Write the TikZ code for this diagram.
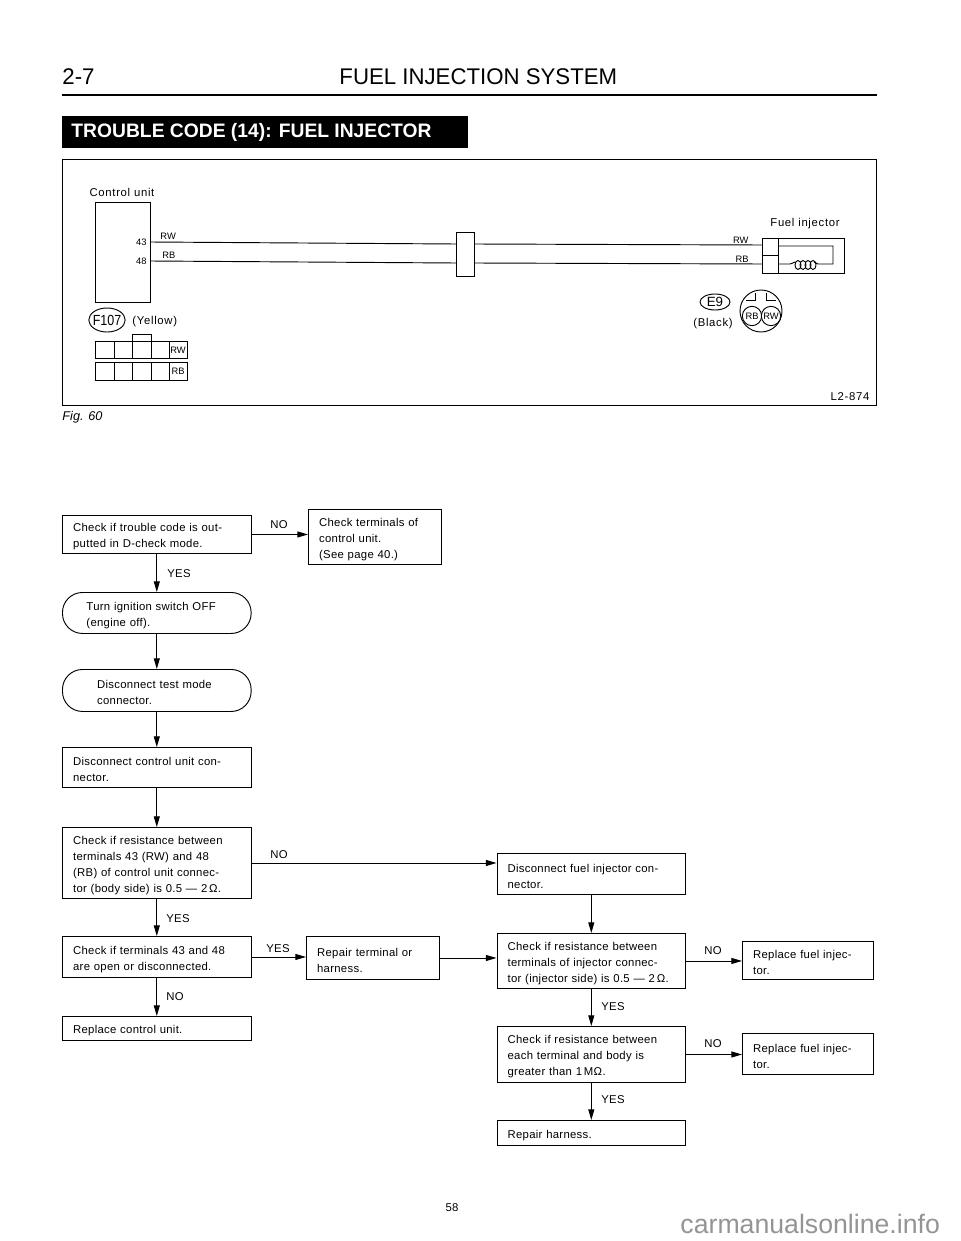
\documentclass[tikz,border=0pt]{standalone}
\usepackage{fontspec}
\setmainfont{Liberation Sans}
\newfontfamily\headfont[FakeStretch=0.98]{Liberation Sans}
\newfontfamily\bannerfont[FakeStretch=0.99]{Liberation Sans Bold}
\newfontfamily\condfont[FakeStretch=0.85]{Liberation Sans}
\newfontfamily\flowfont[LetterSpace=2.6]{Liberation Sans}
\newfontfamily\tagfont[LetterSpace=6]{Liberation Sans}
\usetikzlibrary{arrows.meta,shapes.geometric}
\tikzset{
    widebox/.style={draw,anchor=north west,align=left,inner xsep=8pt,inner ysep=0pt,text width=125.5pt,font=\flowfont\fontsize{8.5}{12}\selectfont,execute at begin node={\rule{0pt}{9.5pt}}},
    narrowbox/.style={widebox,text width=83.75pt},
    pillbox/.style={widebox,rounded corners=15pt},
    flowline/.style={-{Triangle[length=8pt,width=4.5pt]}},
    flowtag/.style={font=\flowfont\fontsize{8.5}{12}\selectfont},
    wiretag/.style={font=\fontsize{7}{8}\selectfont,inner sep=0pt},
    plaintag/.style={font=\tagfont\fontsize{8.5}{10}\selectfont,inner sep=0pt}
}
\begin{document}
\begin{tikzpicture}[x=0.75pt,y=-0.75pt,line width=0.7pt]
    \useasboundingbox (0,0) rectangle (960,1241);
    \node[anchor=west,inner sep=0pt,font=\headfont\fontsize{17}{20}\selectfont] (pagenum) at (62,77) {2-7};
    \node[anchor=west,inner sep=0pt,font=\headfont\fontsize{17}{20}\selectfont] (heading) at (339,77) {FUEL INJECTION SYSTEM};
    \draw[line width=2pt] (62,95) -- (877,95);
    \node[fill=black,text=white,anchor=north west,inner sep=0pt,minimum width=304.5pt,minimum height=24pt] (banner) at (62,116) {};
    \node[anchor=west,inner sep=0pt,text=white,font=\bannerfont\fontsize{14.6}{17}\selectfont] (bannertext) at (71,132) {TROUBLE CODE (14): FUEL INJECTOR};

    \draw (62,159) rectangle (876,405);
    \node[plaintag] (ctrllabel) at (122,192) {Control unit};
    \node[draw,anchor=north west,inner sep=0pt,minimum width=41.25pt,minimum height=75pt] (ctrlunit) at (95,202) {};
    \node[wiretag,anchor=east] (pin43) at (147,242) {43};
    \node[wiretag,anchor=east] (pin48) at (147,261) {48};
    \node[wiretag,anchor=west] (rwa) at (160,236) {RW};
    \node[wiretag,anchor=west] (rba) at (162,255) {RB};
    \node[draw,anchor=north west,inner sep=0pt,minimum width=13.5pt,minimum height=33pt] (midconn) at (456,232) {};
    \coordinate (t43) at (150,242);
    \coordinate (t48) at (150,261);
    \coordinate (m43) at (456,244);
    \coordinate (m48) at (456,263);
    \coordinate (n43) at (474,244);
    \coordinate (n48) at (474,263);
    \coordinate (i43) at (762,245);
    \coordinate (i48) at (762,264);
    \draw (t43) -- (m43);
    \draw (t48) -- (m48);
    \draw (n43) -- (i43);
    \draw (n48) -- (i48);
    \node[wiretag,anchor=east] (rwb) at (749,240) {RW};
    \node[wiretag,anchor=east] (rbb) at (749,259) {RB};
    \node[plaintag] (injlabel) at (805,224) {Fuel injector};
    \draw (762,238) rectangle (778,255);
    \draw (762,255) rectangle (778,273);
    \draw (778,238) -- (844,238) -- (844,273) -- (778,273);
    \draw (778,246) -- (833,246) -- (833,264) -- (818,264) .. controls (816,264) and (816,262) .. (814,262);
    \draw (778,264) -- (790,264) .. controls (793,264) and (793,262) .. (795,262);
    \foreach \cx in {798,803,808,813}
        \draw (\cx,265) ellipse (3 and 4.5);
    \node[draw,ellipse,inner sep=0pt,minimum width=22.5pt,minimum height=12pt,font=\fontsize{10}{12}\selectfont] (e9) at (715,302) {E9};
    \node[plaintag] (black) at (713,324) {(Black)};
    \draw (761,311) circle (21);
    \draw (755,293) -- (755,300) -- (746,300);
    \draw (766,293) -- (766,300) -- (776,300);
    \node[draw,circle,fill=white,inner sep=0pt,minimum size=14.5pt,wiretag] (rbc) at (752,316) {RB};
    \node[draw,circle,fill=white,inner sep=0pt,minimum size=14.5pt,wiretag] (rwc) at (771,316) {RW};
    \node[plaintag] (drawno) at (850,397) {L2-874};

    \node[draw,ellipse,inner xsep=-1pt,inner ysep=0pt,minimum height=18pt,font=\condfont\fontsize{11}{12}\selectfont] (f107) at (107,320) {F107};
    \node[plaintag,anchor=west] (yellow) at (132,322) {(Yellow)};
    \draw (132,341) -- (132,334) -- (151,334) -- (151,341);
    \foreach \gx/\gy in {95/114,114/132,132/151,151/169,169/187} {
        \draw (\gx,341) rectangle (\gy,358);
        \draw (\gx,362) rectangle (\gy,380);
    }
    \node[wiretag] (rwd) at (178,350) {RW};
    \node[wiretag] (rbd) at (178,371) {RB};
    \node[anchor=west,inner sep=0pt,font=\itshape\fontsize{9.5}{10}\selectfont] (figlabel) at (62,417) {Fig. 60};

    \node[widebox,minimum height=28.5pt] (codecheck) at (62,515) {Check if trouble code is out-\\putted in D-check mode.};
    \node[narrowbox,minimum height=41.25pt] (termcheck) at (308,509) {Check terminals of\\control unit.\\(See page 40.)};
    \node[pillbox,inner xsep=18pt,text width=105.5pt,minimum height=30.75pt] (ignoff) at (62,592) {Turn ignition switch OFF\\(engine off).};
    \node[pillbox,inner xsep=26pt,text width=89.5pt,minimum height=31.5pt] (testmode) at (62,669) {Disconnect test mode\\connector.};
    \node[widebox,minimum height=30pt] (unitconn) at (62,747) {Disconnect control unit con-\\nector.};
    \node[widebox,minimum height=53.25pt] (unitres) at (62,827) {Check if resistance between\\terminals 43 (RW) and 48\\(RB) of control unit connec-\\tor (body side) is 0.5 — 2\,Ω.};
    \node[widebox,minimum height=30.75pt] (openchk) at (62,936) {Check if terminals 43 and 48\\are open or disconnected.};
    \node[narrowbox,minimum height=32.25pt] (repterm) at (306,936) {Repair terminal or\\harness.};
    \node[widebox,minimum height=18pt] (repunit) at (62,1016) {Replace control unit.};
    \node[widebox,minimum height=30.75pt] (injconn) at (496.5,853) {Disconnect fuel injector con-\\nector.};
    \node[widebox,minimum height=41.25pt] (injres) at (496.5,933) {Check if resistance between\\terminals of injector connec-\\tor (injector side) is 0.5 — 2\,Ω.};
    \node[narrowbox,text width=82.25pt,minimum height=28.5pt] (repinja) at (742,941) {Replace fuel injec-\\tor.};
    \node[widebox,minimum height=42pt] (bodyres) at (496.5,1026) {Check if resistance between\\each terminal and body is\\greater than 1\,MΩ.};
    \node[narrowbox,text width=82.25pt,minimum height=30.75pt] (repinjb) at (742,1033) {Replace fuel injec-\\tor.};
    \node[widebox,minimum height=18.75pt] (repharn) at (496.5,1120) {Repair harness.};

    \draw[flowline] (codecheck.east) -- (codecheck.east -| termcheck.west);
    \draw[flowline] (codecheck) -- (ignoff);
    \draw[flowline] (ignoff) -- (testmode);
    \draw[flowline] (testmode) -- (unitconn);
    \draw[flowline] (unitconn) -- (unitres);
    \draw[flowline] (unitres) -- (openchk);
    \draw[flowline] (openchk) -- (repunit);
    \draw[flowline] (unitres.east) -- (unitres.east -| injconn.west);
    \draw[flowline] (openchk.east) -- (openchk.east -| repterm.west);
    \draw[flowline] (repterm.east) -- (repterm.east -| injres.west);
    \draw[flowline] (injconn) -- (injres);
    \draw[flowline] (injres) -- (bodyres);
    \draw[flowline] (bodyres) -- (repharn);
    \draw[flowline] (injres.east) -- (injres.east -| repinja.west);
    \draw[flowline] (bodyres.east) -- (bodyres.east -| repinjb.west);

    \node[flowtag] (tagno) at (279,525) {NO};
    \node[flowtag] (tagyes) at (179,574) {YES};
    \node[flowtag] (tagnob) at (279,855) {NO};
    \node[flowtag] (tagyesb) at (178,919) {YES};
    \node[flowtag] (tagyesc) at (278,949) {YES};
    \node[flowtag] (tagnoc) at (175,997) {NO};
    \node[flowtag] (tagnod) at (713,951) {NO};
    \node[flowtag] (tagyesd) at (613,1007) {YES};
    \node[flowtag] (tagnoe) at (713,1044) {NO};
    \node[flowtag] (tagyese) at (613,1100) {YES};

    \node[flowtag] (pagefoot) at (452,1208) {58};
    \node[anchor=base west,inner sep=0pt,text=black!42,font=\fontsize{20}{24}\selectfont] (sitemark) at (680,1233) {carmanualsonline.info};
\end{tikzpicture}
\end{document}
